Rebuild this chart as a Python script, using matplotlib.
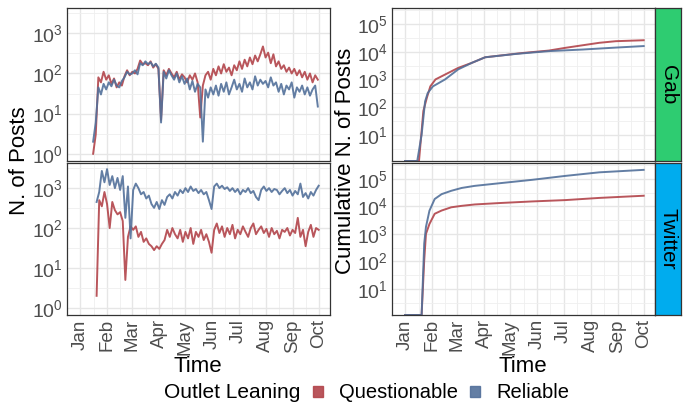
import matplotlib
matplotlib.use('Agg')
import matplotlib.pyplot as plt
import matplotlib.dates as mdates
from matplotlib.patches import Patch
import numpy as np
import pandas as pd

plt.rcParams['font.family'] = ['Liberation Sans', 'DejaVu Sans']
plt.rcParams['mathtext.default'] = 'regular'

RED = '#B2444A'
BLUE = '#52709A'
GREY = '#4D4D4D'

# daily posts (sampled every 3 days)
gab_dates = pd.date_range('2020-01-16', periods=87, freq='3D')
gab_reliable = [2, 6, 45, 30, 55, 40, 60, 48, 70, 50, 45, 65, 80, 110, 95, 100, 120, 95, 180, 160,
                200, 170, 190, 150, 175, 140, 6, 110, 75, 120, 90, 70, 100, 60, 85, 55, 75, 40, 65, 35,
                55, 45, 2, 40, 25, 45, 30, 50, 28, 55, 35, 60, 30, 45, 70, 40, 55, 35, 75, 45,
                60, 40, 85, 50, 70, 55, 65, 45, 80, 50, 60, 35, 55, 30, 50, 40, 60, 25, 45, 35,
                50, 30, 45, 28, 40, 50, 15]
gab_questionable = [1, 3, 80, 60, 110, 70, 90, 55, 75, 45, 60, 50, 85, 120, 90, 110, 100, 130, 210, 170,
                    180, 160, 200, 140, 170, 130, 7, 120, 90, 130, 100, 80, 110, 70, 95, 80, 60, 90, 70, 100,
                    60, 8, 50, 90, 110, 70, 130, 90, 150, 100, 170, 110, 140, 90, 160, 120, 200, 130, 220, 150,
                    250, 170, 280, 200, 300, 470, 250, 330, 180, 300, 150, 200, 130, 160, 110, 140, 100, 130, 90, 120,
                    80, 110, 70, 100, 60, 90, 70]

tw_dates = pd.date_range('2020-01-20', periods=86, freq='3D')
tw_reliable = [450, 800, 2700, 1400, 3000, 1200, 2000, 1000, 1800, 900, 2000, 180, 1100, 55, 900, 1300, 1000, 700, 800, 550,
               650, 400, 320, 450, 300, 500, 380, 600, 700, 550, 800, 650, 900, 750, 1000, 800, 1100, 850, 950, 750,
               900, 700, 800, 500, 300, 1100, 1300, 1000, 1150, 950, 1050, 850, 1000, 800, 950, 700, 900, 800, 1000, 750,
               850, 600, 500, 900, 1100, 850, 1000, 800, 950, 900, 700, 850, 1000, 750, 900, 650, 850, 700, 1300, 600,
               750, 550, 800, 650, 900, 1150]
tw_questionable = [2, 500, 350, 800, 400, 100, 450, 280, 220, 250, 150, 5, 60, 110, 90, 110, 60, 80, 45, 55,
                   40, 35, 28, 35, 30, 40, 50, 90, 60, 100, 70, 55, 90, 45, 80, 55, 100, 40, 80, 60,
                   90, 50, 70, 45, 24, 90, 130, 75, 110, 60, 100, 70, 120, 55, 90, 70, 110, 80, 60, 100,
                   130, 70, 90, 110, 75, 95, 60, 100, 70, 85, 55, 90, 80, 100, 65, 90, 75, 180, 60, 90,
                   35, 80, 120, 60, 100, 90]

# cumulative posts
gab_cum_rel_dates = ['2020-01-01', '2020-01-15', '2020-01-20', '2020-01-24', '2020-01-27', '2020-02-02',
                     '2020-02-16', '2020-03-02', '2020-03-18', '2020-04-02', '2020-05-07', '2020-06-14',
                     '2020-07-23', '2020-08-30', '2020-10-01']
gab_cum_rel = [0, 0, 10, 160, 320, 560, 1000, 2300, 4000, 6300, 8300, 10500, 12000, 14100, 16000]
gab_cum_q_dates = ['2020-01-01', '2020-01-17', '2020-01-22', '2020-01-26', '2020-01-30', '2020-02-05',
                   '2020-02-16', '2020-03-02', '2020-03-18', '2020-04-02', '2020-05-15', '2020-06-14',
                   '2020-07-03', '2020-08-11', '2020-08-30', '2020-10-01']
gab_cum_q = [0, 0, 72, 215, 560, 1000, 1500, 2600, 4000, 6300, 9000, 11000, 13800, 21000, 24000, 26000]

tw_cum_dates = ['2020-01-01', '2020-01-20', '2020-01-23', '2020-01-25', '2020-01-29', '2020-02-04',
                '2020-02-12', '2020-02-23', '2020-03-06', '2020-03-21', '2020-04-17', '2020-05-26',
                '2020-07-03', '2020-08-11', '2020-10-01']
tw_cum_rel = [0, 0, 450, 1800, 7000, 18600, 28000, 37000, 47000, 56000, 69000, 93000, 129000, 174000, 214000]
tw_cum_q = [0, 0, 110, 1000, 2300, 5400, 7100, 9300, 10500, 11800, 13200, 15200, 17000, 20400, 24500]

months = pd.date_range('2020-01-01', '2020-10-01', freq='MS')
month_all = pd.date_range('2019-12-01', '2020-11-01', freq='MS')
month_mid = month_all[:-1] + (month_all[1:] - month_all[:-1]) / 2
xlim = (pd.Timestamp('2019-12-17'), pd.Timestamp('2020-10-14'))

W, H = 689, 405


def rect(x0, y0, x1, y1):
    return [x0 / W, 1 - y1 / H, (x1 - x0) / W, (y1 - y0) / H]


def style(ax, lo, hi, majors, show_x):
    ax.set_yscale('log')
    ax.set_yticks([10.0 ** k for k in majors])
    ax.set_yticklabels(['$10^{%d}$' % k for k in majors])
    ax.set_yticks([10.0 ** (k + 0.5) for k in range(-1, 6)], minor=True)
    ax.yaxis.set_minor_formatter(plt.NullFormatter())
    ax.set_ylim(10 ** lo, 10 ** hi)
    ax.set_xticks(months)
    ax.set_xticks(month_mid, minor=True)
    ax.set_xlim(*xlim)
    ax.xaxis.set_major_formatter(mdates.DateFormatter('%b'))
    ax.grid(which='major', color='#E6E6E6', lw=1.0)
    ax.grid(which='minor', color='#EFEFEF', lw=0.6)
    ax.set_axisbelow(True)
    ax.tick_params(which='both', length=0, labelsize=14, labelcolor=GREY, pad=3)
    ax.tick_params(axis='x', labelrotation=90, labelsize=13.5)
    if not show_x:
        ax.tick_params(axis='x', labelbottom=False)
    for s in ax.spines.values():
        s.set_color('#333333')
        s.set_linewidth(0.9)


def cum(vals, lo):
    v = np.array(vals, dtype=float)
    return np.where(v > 0, v, 10 ** lo)


fig = plt.figure(figsize=(6.89, 4.05), dpi=100)

ax1 = fig.add_axes(rect(67, 8, 330, 161))
ax1.plot(gab_dates, gab_questionable, color=RED, lw=1.4, alpha=0.9)
ax1.plot(gab_dates, gab_reliable, color=BLUE, lw=1.4, alpha=0.9)
style(ax1, -0.18, 3.63, [0, 1, 2, 3], False)

ax2 = fig.add_axes(rect(67, 163, 330, 315))
ax2.plot(tw_dates, tw_questionable, color=RED, lw=1.4, alpha=0.9)
ax2.plot(tw_dates, tw_reliable, color=BLUE, lw=1.4, alpha=0.9)
style(ax2, -0.18, 3.63, [0, 1, 2, 3], True)

lo_r = 0.05
ax3 = fig.add_axes(rect(392, 8, 655, 161))
ax3.plot(pd.to_datetime(gab_cum_q_dates), cum(gab_cum_q, lo_r), color=RED, lw=1.4, alpha=0.9)
ax3.plot(pd.to_datetime(gab_cum_rel_dates), cum(gab_cum_rel, lo_r), color=BLUE, lw=1.4, alpha=0.9)
style(ax3, lo_r, 5.58, [1, 2, 3, 4, 5], False)

ax4 = fig.add_axes(rect(392, 163, 655, 315))
ax4.plot(pd.to_datetime(tw_cum_dates), cum(tw_cum_q, lo_r), color=RED, lw=1.4, alpha=0.9)
ax4.plot(pd.to_datetime(tw_cum_dates), cum(tw_cum_rel, lo_r), color=BLUE, lw=1.4, alpha=0.9)
style(ax4, lo_r, 5.58, [1, 2, 3, 4, 5], True)

for box, name, col in [((655, 8, 681, 161), 'Gab', '#2ECC71'), ((655, 163, 681, 315), 'Twitter', '#00ACEE')]:
    st = fig.add_axes(rect(*box))
    st.set_facecolor(col)
    st.set_xticks([])
    st.set_yticks([])
    for s in st.spines.values():
        s.set_color('#333333')
        s.set_linewidth(0.9)
    st.text(0.5, 0.5, name, rotation=270, ha='center', va='center', fontsize=15, transform=st.transAxes)

fig.text(20 / W, 1 - 161 / H, 'N. of Posts', rotation=90, ha='center', va='center', fontsize=16)
fig.text(346 / W, 1 - 161 / H, 'Cumulative N. of Posts', rotation=90, ha='center', va='center', fontsize=16)
fig.text(198 / W, 1 - 366 / H, 'Time', ha='center', va='center', fontsize=16)
fig.text(523 / W, 1 - 366 / H, 'Time', ha='center', va='center', fontsize=16)

fig.text(164 / W, 1 - 393 / H, 'Outlet Leaning', ha='left', va='center', fontsize=15)
handles = [Patch(color=RED, alpha=0.9, label='Questionable'), Patch(color=BLUE, alpha=0.9, label='Reliable')]
fig.legend(handles=handles, loc='center left', bbox_to_anchor=(313 / W, 1 - 393 / H), ncol=2, frameon=False,
           fontsize=14.5, handlelength=0.5, handleheight=0.5, handletextpad=0.8, columnspacing=0.6,
           borderpad=0, borderaxespad=0)

fig.savefig('out.png', dpi=100)
